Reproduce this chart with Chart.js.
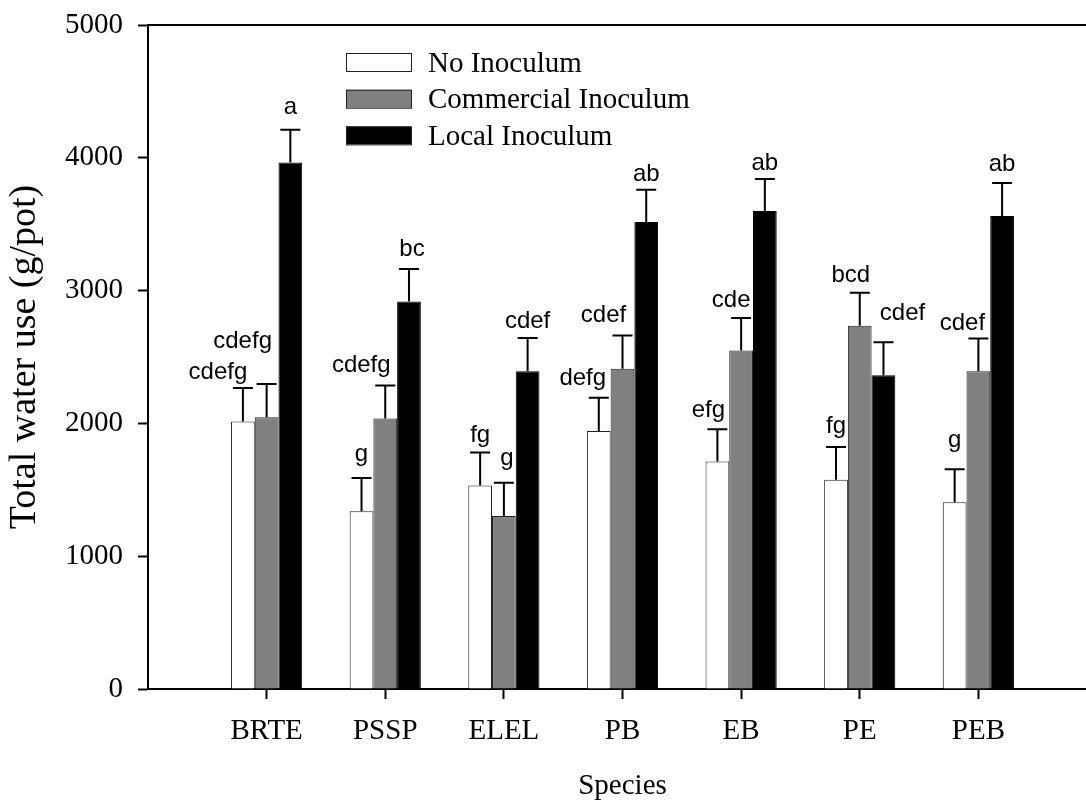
<!DOCTYPE html>
<html>
<head>
<meta charset="utf-8">
<script src="https://cdn.jsdelivr.net/npm/chart.js@4.4.1/dist/chart.umd.min.js"></script>
<style>
html, body { margin: 0; padding: 0; background: #fff; overflow: hidden; }
#wrap { width: 1097px; height: 804px; }
</style>
</head>
<body>
<div id="wrap"><canvas id="chart" width="1097" height="804"></canvas></div>
<script>
// data
var species = ['BRTE', 'PSSP', 'ELEL', 'PB', 'EB', 'PE', 'PEB'];
var seriesNames = ['No Inoculum', 'Commercial Inoculum', 'Local Inoculum'];

var noInoculum = [2015, 1338, 1532, 1943, 1713, 1575, 1407];
var commercialInoculum = [2046, 2036, 1303, 2412, 2549, 2735, 2392];
var localInoculum = [3965, 2917, 2393, 3516, 3599, 2362, 3561];

var noInoculumErr = [251, 251, 248, 250, 243, 248, 248];
var commercialErr = [250, 250, 251, 250, 245, 248, 248];
var localErr = [246, 245, 251, 244, 241, 250, 250];

var noInoculumLetters = ['cdefg', 'g', 'fg', 'defg', 'efg', 'fg', 'g'];
var commercialLetters = ['cdefg', 'cdefg', 'g', 'cdef', 'cde', 'bcd', 'cdef'];
var localLetters = ['a', 'bc', 'cdef', 'ab', 'ab', 'cdef', 'ab'];

var yTicks = [0, 1000, 2000, 3000, 4000, 5000];

// hand placement of the letters (px), like in the original figure
var letterShiftX = [
    [-25, 0, 0, -16, -9, 0, 0],
    [-24, -24, 3, -19, -10, -9, -16],
    [0, 3, 0, 0, 0, 19, 0]
];
var letterLift = [
    [9, 17, 11, 13, 12, 14, 22],
    [36, 13, 18, 13, 11, 11, 8],
    [16, 13, 10, 9, 9, 22, 12]
];

var serif = '"Liberation Serif", "Times New Roman", serif';
var sans = '"Liberation Sans", Arial, sans-serif';

function points(values) {
    return values.map(function (v, i) {
        return {x: i + 1, y: v};
    });
}

var errorBars = {
    id: 'errorBars',
    afterDatasetsDraw: function (chart) {
        var ctx = chart.ctx;
        var yScale = chart.scales.y;
        chart.data.datasets.forEach(function (ds, di) {
            var meta = chart.getDatasetMeta(di);
            meta.data.forEach(function (bar, i) {
                var top = yScale.getPixelForValue(ds.data[i].y + ds.errors[i]);
                ctx.save();
                ctx.strokeStyle = '#000';
                ctx.lineWidth = 2;
                ctx.beginPath();
                ctx.moveTo(bar.x, bar.y);
                ctx.lineTo(bar.x, top);
                ctx.moveTo(bar.x - 10, top);
                ctx.lineTo(bar.x + 10, top);
                ctx.stroke();

                ctx.fillStyle = '#000';
                ctx.font = '24px ' + sans;
                ctx.textAlign = 'center';
                ctx.textBaseline = 'alphabetic';
                ctx.fillText(ds.letters[i], bar.x + letterShiftX[di][i], top - letterLift[di][i]);
                ctx.restore();
            });
        });
    }
};

var frameAndLegend = {
    id: 'frameAndLegend',
    afterDraw: function (chart) {
        var ctx = chart.ctx;
        var area = chart.chartArea;

        // top border line
        ctx.save();
        ctx.strokeStyle = '#000';
        ctx.lineWidth = 2;
        ctx.beginPath();
        ctx.moveTo(area.left, area.top);
        ctx.lineTo(area.right, area.top);
        ctx.stroke();

        // legend inside plot
        chart.data.datasets.forEach(function (ds, i) {
            var y = 53 + i * 36.7;
            ctx.fillStyle = ds.backgroundColor;
            ctx.fillRect(346, y, 65, 18);
            ctx.strokeStyle = '#222';
            ctx.lineWidth = 1;
            ctx.strokeRect(346.5, y + 0.5, 65, 18);
            ctx.fillStyle = '#000';
            ctx.font = '29px ' + serif;
            ctx.textAlign = 'left';
            ctx.textBaseline = 'alphabetic';
            ctx.fillText(ds.label, 428, y + 18.5);
        });
        ctx.restore();
    }
};

new Chart(document.getElementById('chart').getContext('2d'), {
    type: 'bar',
    data: {
        datasets: [
            {
                label: seriesNames[0],
                data: points(noInoculum),
                errors: noInoculumErr,
                letters: noInoculumLetters,
                backgroundColor: '#ffffff',
                borderColor: '#222',
                borderWidth: 1
            },
            {
                label: seriesNames[1],
                data: points(commercialInoculum),
                errors: commercialErr,
                letters: commercialLetters,
                backgroundColor: '#808080',
                borderColor: '#222',
                borderWidth: 1
            },
            {
                label: seriesNames[2],
                data: points(localInoculum),
                errors: localErr,
                letters: localLetters,
                backgroundColor: '#000000',
                borderColor: '#000',
                borderWidth: 1
            }
        ]
    },
    options: {
        responsive: false,
        animation: false,
        categoryPercentage: 0.6,
        barPercentage: 1.0,
        layout: {padding: {top: 25, left: 0, right: 0, bottom: 0}},
        plugins: {
            legend: {display: false},
            tooltip: {enabled: false}
        },
        scales: {
            x: {
                type: 'linear',
                min: 0,
                max: 8,
                offset: false,
                afterBuildTicks: function (scale) {
                    scale.ticks = species.map(function (s, i) {
                        return {value: i + 1};
                    });
                },
                afterFit: function (scale) {
                    scale.height = 115;
                },
                grid: {
                    offset: false,
                    drawOnChartArea: false,
                    tickLength: 10,
                    tickWidth: 2,
                    tickColor: '#000'
                },
                border: {color: '#000', width: 2},
                ticks: {
                    autoSkip: false,
                    maxRotation: 0,
                    padding: 15,
                    color: '#000',
                    font: {family: serif, size: 29},
                    callback: function (value) {
                        return species[value - 1];
                    }
                },
                title: {
                    display: true,
                    text: 'Species',
                    color: '#000',
                    font: {family: serif, size: 29},
                    padding: {top: 0, bottom: 0}
                }
            },
            y: {
                min: 0,
                max: 5000,
                afterBuildTicks: function (scale) {
                    scale.ticks = yTicks.map(function (v) {
                        return {value: v};
                    });
                },
                afterFit: function (scale) {
                    scale.width = 148;
                    scale.paddingTop = 0;
                    scale.paddingBottom = 0;
                },
                grid: {
                    drawOnChartArea: false,
                    tickLength: 10,
                    tickWidth: 2,
                    tickColor: '#000'
                },
                border: {color: '#000', width: 2},
                ticks: {
                    padding: 15,
                    color: '#000',
                    font: {family: serif, size: 29},
                    callback: function (value) {
                        return String(value);
                    }
                },
                title: {
                    display: true,
                    text: 'Total water use (g/pot)',
                    color: '#000',
                    font: {family: serif, size: 38},
                    padding: {top: 2, bottom: 0}
                }
            }
        }
    },
    plugins: [errorBars, frameAndLegend]
});
</script>
</body>
</html>
